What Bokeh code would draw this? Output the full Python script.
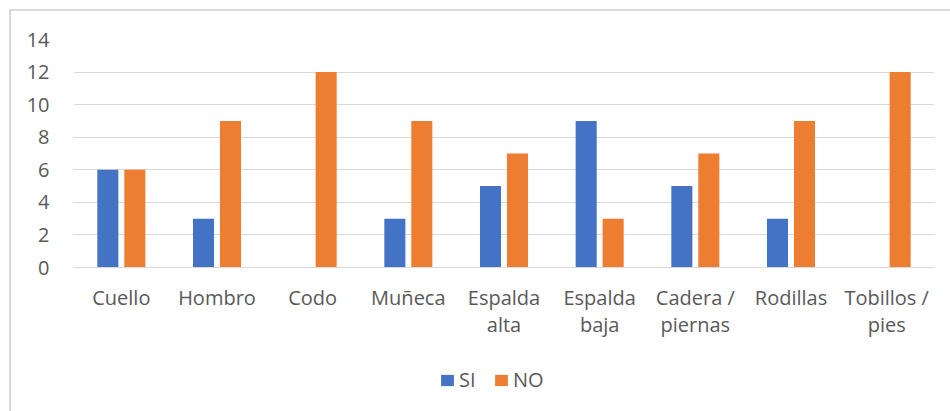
from bokeh.plotting import figure
from bokeh.layouts import column
from bokeh.models import FactorRange, Legend, LegendItem, FixedTicker, ColumnDataSource, Range1d
from bokeh.transform import dodge
from bokeh.embed import file_html
from bokeh.resources import INLINE

# Body regions and answer counts
categories = ["Cuello", "Hombro", "Codo", "Muñeca", "Espalda alta",
              "Espalda baja", "Cadera / piernas", "Rodillas", "Tobillos / pies"]
si_values = [6, 3, 0, 3, 5, 9, 5, 3, 0]
no_values = [6, 9, 12, 9, 7, 3, 7, 9, 12]
y_ticks = [0, 2, 4, 6, 8, 10, 12, 14]
series_names = ["SI", "NO"]

# Wrapped labels for the category axis
wrapped_labels = {
    "Espalda alta": "Espalda\nalta",
    "Espalda baja": "Espalda\nbaja",
    "Cadera / piernas": "Cadera /\npiernas",
    "Tobillos / pies": "Tobillos /\npies",
}
factors = [wrapped_labels.get(c, c) for c in categories]

FONT = "Open Sans"
TEXT = "#595959"
GRID = "#d9d9d9"
BLUE = "#4472C4"
ORANGE = "#ED7D31"

source = ColumnDataSource(data=dict(cat=factors, si=si_values, no=no_values))

p = figure(
    x_range=FactorRange(*factors),
    y_range=(0, 14),
    width=941, height=330,
    output_backend="svg",
    toolbar_location=None,
    min_border_left=62, min_border_right=18,
    min_border_top=28, min_border_bottom=0,
)
p.outline_line_color = None

p.vbar(x=dodge("cat", -0.141, range=p.x_range), top="si", width=0.22,
       source=source, color=BLUE, line_color=None)
p.vbar(x=dodge("cat", 0.141, range=p.x_range), top="no", width=0.22,
       source=source, color=ORANGE, line_color=None)

# Axes
p.yaxis.ticker = FixedTicker(ticks=y_ticks)
p.yaxis.axis_line_color = None
p.yaxis.major_tick_line_color = None
p.yaxis.minor_tick_line_color = None
p.yaxis.major_label_standoff = 18
p.yaxis.major_label_text_font = FONT
p.yaxis.major_label_text_font_size = "20px"
p.yaxis.major_label_text_color = TEXT

p.xaxis.axis_line_color = GRID
p.xaxis.major_tick_line_color = None
p.xaxis.minor_tick_line_color = None
p.xaxis.major_label_standoff = 10
p.xaxis.major_label_text_font = FONT
p.xaxis.major_label_text_font_size = "20px"
p.xaxis.major_label_text_color = TEXT
p.xaxis.major_label_text_line_height = 1.03

p.xgrid.grid_line_color = None
p.ygrid.grid_line_color = GRID
p.ygrid.grid_line_width = 1

# Legend strip under the chart; its keys come from zero-height bars
lg = figure(
    width=941, height=70,
    x_range=Range1d(0, 1), y_range=Range1d(0, 1),
    output_backend="svg",
    toolbar_location=None,
    min_border_left=0, min_border_right=0,
    min_border_top=0, min_border_bottom=0,
)
lg.axis.visible = False
lg.grid.visible = False
lg.outline_line_color = None

key_source = ColumnDataSource(data=dict(x=[0.5], top=[0]))
r_si = lg.vbar(x="x", top="top", width=0.1, source=key_source, color=BLUE, line_color=None)
r_no = lg.vbar(x="x", top="top", width=0.1, source=key_source, color=ORANGE, line_color=None)

legend = Legend(
    items=[LegendItem(label=series_names[0], renderers=[r_si]),
           LegendItem(label=series_names[1], renderers=[r_no])],
    orientation="horizontal",
    location=(366, 18),
    label_text_font=FONT,
    label_text_font_size="20px",
    label_text_color=TEXT,
    glyph_width=16, glyph_height=14,
    label_standoff=4,
    spacing=14,
    border_line_color=None,
    background_fill_alpha=0,
    margin=0,
    padding=0,
)
lg.add_layout(legend)

layout = column(
    p, lg,
    spacing=0,
    margin=(9, 0, 0, 9),
    styles={"border-left": "2px solid #d9d9d9", "border-top": "2px solid #d9d9d9"},
)

open("out.html", "w").write(file_html(layout, INLINE))
